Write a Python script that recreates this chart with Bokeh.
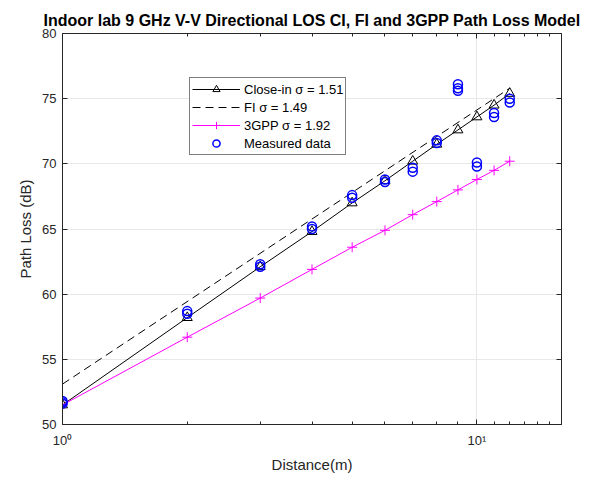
from bokeh.plotting import figure
from bokeh.models import FixedTicker, LogAxis, LinearAxis, Legend, LegendItem
from bokeh.embed import file_html
from bokeh.resources import INLINE

# Transmitter-receiver separation distances (m)
distances = [1, 2, 3, 4, 5, 6, 7, 8, 9, 10, 11, 12]

# Close-in (CI) model, 1 m free-space reference, evaluated at each distance (dB)
ci_loss = [51.5, 58.2, 62.1, 64.8, 67.0, 68.7, 70.2, 71.5, 72.6, 73.6, 74.5, 75.4]

# Floating-intercept (FI) model line end points (dB)
fi_dist = [1, 12]
fi_loss = [53.1, 75.8]

# 3GPP InH model evaluated at each distance (dB)
gpp_loss = [51.5, 56.7, 59.7, 61.9, 63.6, 64.9, 66.1, 67.1, 68.0, 68.8, 69.5, 70.2]

# Measured path loss samples (several per location)
meas_dist = [1, 1, 1, 2, 2, 3, 3, 4, 4, 5, 5, 6, 6, 7, 7, 8, 8,
             9, 9, 9, 10, 10, 11, 11, 12, 12]
meas_loss = [51.8, 51.7, 51.6, 58.7, 58.5, 62.3, 62.1, 65.2, 65.0, 67.6, 67.4,
             68.8, 68.6, 69.7, 69.4, 71.8, 71.6, 76.1, 75.8, 75.6, 70.1, 69.8,
             73.9, 73.6, 75.0, 74.7]

x_major = [1, 10]
x_minor = [2, 3, 4, 5, 6, 7, 8, 9, 11, 12, 13, 14, 15, 16]
y_ticks = [50, 55, 60, 65, 70, 75, 80]

labels = ["Close-in \u03c3 = 1.51", "FI \u03c3 = 1.49", "3GPP \u03c3 = 1.92", "Measured data"]

FONT = "Liberation Sans"
INK = "#262626"

p = figure(width=608, height=480, x_axis_type="log", x_range=(1, 16), y_range=(50, 80),
           output_backend="svg", toolbar_location=None,
           min_border_left=62, min_border_right=47, min_border_top=33, min_border_bottom=56)

p.title.text = "Indoor lab 9 GHz V-V Directional LOS CI, FI and 3GPP Path Loss Model"
p.title.text_font = FONT
p.title.text_font_size = "16px"
p.title.text_font_style = "bold"
p.title.text_color = "#000000"
p.title.align = "center"

xt = FixedTicker(ticks=x_major, minor_ticks=x_minor)
yt = FixedTicker(ticks=y_ticks)

p.xaxis.ticker = xt
p.xaxis.major_label_overrides = {1: "10\u2070", 10: "10\u00b9"}
p.yaxis.ticker = yt

for ax in (p.xaxis, p.yaxis):
    ax.axis_line_color = INK
    ax.major_tick_line_color = INK
    ax.minor_tick_line_color = INK
    ax.major_tick_in = 5
    ax.major_tick_out = 0
    ax.minor_tick_in = 3
    ax.minor_tick_out = 0
    ax.major_label_text_font = FONT
    ax.major_label_text_font_size = "13px"
    ax.major_label_text_color = INK
    ax.axis_label_text_font = FONT
    ax.axis_label_text_font_size = "15px"
    ax.axis_label_text_font_style = "normal"
    ax.axis_label_text_color = INK
p.yaxis.minor_tick_line_color = None
p.xaxis.axis_label = "Distance(m)"
p.yaxis.axis_label = "Path Loss (dB)"
p.xaxis.major_label_standoff = 8
p.yaxis.major_label_standoff = 6

# box the axes with unlabeled top and right axes
top = LogAxis(ticker=xt, major_label_text_font_size="1px", major_label_text_color=None,
              major_label_standoff=0,
              axis_line_color=INK, major_tick_line_color=INK, minor_tick_line_color=INK,
              major_tick_in=5, major_tick_out=0, minor_tick_in=3, minor_tick_out=0)
right = LinearAxis(ticker=yt, major_label_text_font_size="1px", major_label_text_color=None,
                   major_label_standoff=0,
                   axis_line_color=INK, major_tick_line_color=INK, minor_tick_line_color=None,
                   major_tick_in=5, major_tick_out=0)
p.add_layout(top, "above")
p.add_layout(right, "right")

p.xgrid.ticker = xt
p.ygrid.ticker = yt
p.grid.grid_line_color = "#e8e8e8"
p.grid.grid_line_width = 1
p.outline_line_color = None

ci_line = p.line(distances, ci_loss, line_color="black", line_width=1)
ci_mark = p.scatter(distances, ci_loss, marker="triangle", size=10, fill_color=None,
                    line_color="black", line_width=1)
fi_line = p.line(fi_dist, fi_loss, line_color="black", line_width=1, line_dash="8 5")
gpp_line = p.line(distances, gpp_loss, line_color="#ff00ff", line_width=1)
gpp_mark = p.scatter(distances, gpp_loss, marker="cross", size=10, line_color="#ff00ff",
                     line_width=1)
meas = p.scatter(meas_dist, meas_loss, marker="circle", size=9, fill_color=None,
                 line_color="#0000ff", line_width=1.5)

legend = Legend(items=[
    LegendItem(label=labels[0], renderers=[ci_line, ci_mark]),
    LegendItem(label=labels[1], renderers=[fi_line]),
    LegendItem(label=labels[2], renderers=[gpp_line, gpp_mark]),
    LegendItem(label=labels[3], renderers=[meas]),
], location=(127, 269))
legend.label_text_font = FONT
legend.label_text_font_size = "13px"
legend.label_text_color = "#000000"
legend.glyph_width = 48
legend.glyph_height = 18
legend.label_height = 18
legend.label_standoff = 4
legend.spacing = 0
legend.padding = 2
legend.margin = 0
legend.border_line_color = "black"
legend.border_line_width = 1
legend.background_fill_color = "white"
legend.background_fill_alpha = 1
p.add_layout(legend, "center")

open("out.html", "w").write(file_html(p, INLINE))
